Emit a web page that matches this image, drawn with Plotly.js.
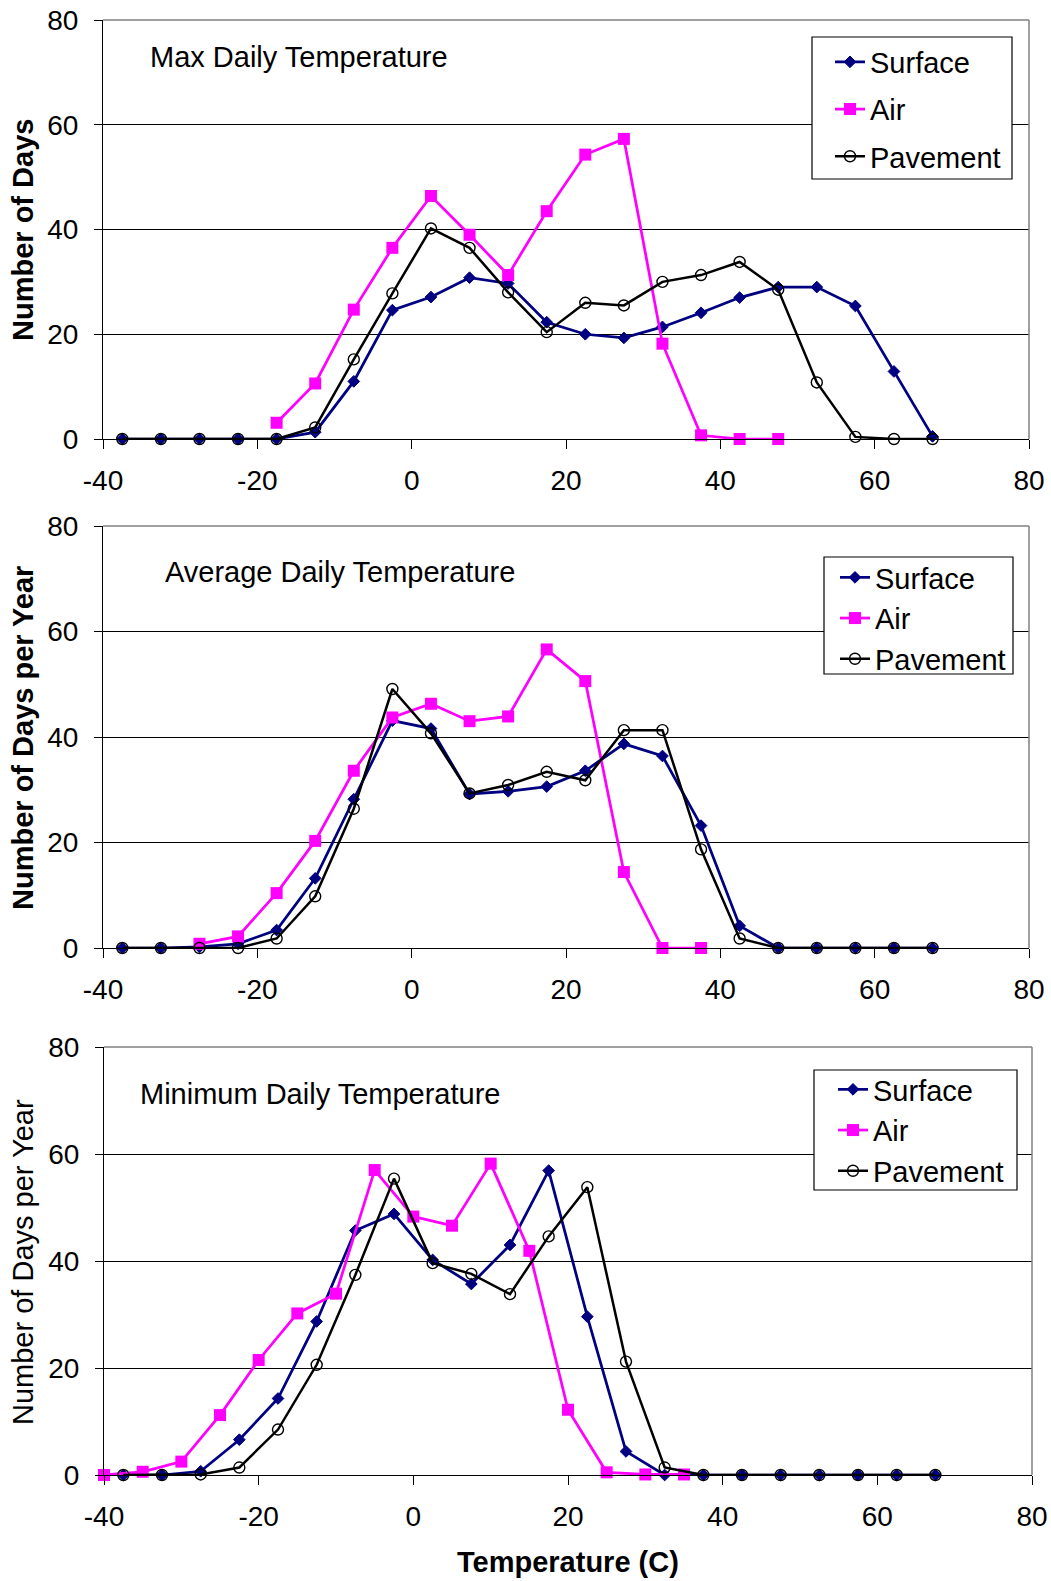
<!DOCTYPE html>
<html>
<head>
<meta charset="utf-8">
<script src="https://cdn.plot.ly/plotly-3.0.1.min.js"></script>
<style>html,body{margin:0;padding:0;background:#fff;}#chart{width:1051px;height:1581px;}</style>
</head>
<body>
<div id="chart"></div>
<script>
// ---- Data ----
var binX = [-37.5,-32.5,-27.5,-22.5,-17.5,-12.5,-7.5,-2.5,2.5,7.5,12.5,17.5,22.5,27.5,32.5,37.5,42.5,47.5,52.5,57.5,62.5,67.5];

// Max Daily Temperature
var maxSurface  = [0,0,0,0,0,1.3,11.0,24.6,27.1,30.8,29.7,22.3,20.0,19.3,21.4,24.1,27.0,29.0,29.0,25.4,12.9,0.5];
var maxAirX     = [-17.5,-12.5,-7.5,-2.5,2.5,7.5,12.5,17.5,22.5,27.5,32.5,37.5,42.5,47.5];
var maxAir      = [3.1,10.6,24.7,36.5,46.4,39.0,31.3,43.5,54.3,57.3,18.2,0.7,0,0];
var maxPavement = [0,0,0,0,0,2.2,15.2,27.8,40.2,36.5,28.0,20.4,26.0,25.5,30.0,31.3,33.8,28.5,10.8,0.4,0,0];

// Average Daily Temperature
var avgSurface  = [0,0,0.2,0.8,3.4,13.2,28.2,43.1,41.6,29.2,29.7,30.6,33.6,38.7,36.4,23.2,4.2,0,0,0,0,0];
var avgAirX     = [-27.5,-22.5,-17.5,-12.5,-7.5,-2.5,2.5,7.5,12.5,17.5,22.5,27.5,32.5,37.5];
var avgAir      = [0.8,2.2,10.4,20.3,33.6,43.7,46.3,43.0,43.9,56.6,50.6,14.4,0,0];
var avgPavement = [0,0,0,0,1.8,9.8,26.4,49.1,40.7,29.3,30.9,33.4,31.8,41.3,41.3,18.7,1.8,0,0,0,0,0];

// Minimum Daily Temperature
var minSurface  = [0,0,0.7,6.6,14.3,28.7,45.7,48.8,40.2,35.7,43.0,56.9,29.6,4.4,0,0,0,0,0,0,0,0];
var minAirX     = [-40,-35,-30,-25,-20,-15,-10,-5,0,5,10,15,20,25,30,35];
var minAir      = [0,0.6,2.5,11.2,21.5,30.2,33.9,57.0,48.3,46.6,58.2,41.9,12.2,0.5,0.1,0.1];
var minPavement = [0,0,0.1,1.4,8.5,20.6,37.4,55.4,39.6,37.6,33.8,44.6,53.8,21.2,1.4,0,0,0,0,0,0,0];

var seriesNames = ['Surface','Air','Pavement'];
var panelTitles = ['Max Daily Temperature','Average Daily Temperature','Minimum Daily Temperature'];
var yTitles = ['Number of Days','Number of Days per Year','Number of Days per Year'];
var xTitle = 'Temperature (C)';
var xTickVals = [-40,-20,0,20,40,60,80];
var xTickText = ['-40','-20','0','20','40','60','80'];
var yTickVals = [0,20,40,60,80];
var yTickText = ['0','20','40','60','80'];

// ---- Styling ----
var W = 1051, H = 1581;
var FONT = '"Liberation Sans", Arial, sans-serif';
var TXT = 29, TICK = 28;
var NAVY = '#000080', MAG = '#FF00FF';

function px(x){ return x / W; }
function py(y){ return 1 - y / H; }

function surfaceTrace(x, y, xa, ya, lg, g){
  return {x:x, y:y, xaxis:xa, yaxis:ya, legend:lg, legendgroup:g+'s', name:seriesNames[0], type:'scatter', mode:'lines+markers',
    cliponaxis:false, line:{color:NAVY, width:2.75},
    marker:{symbol:'diamond', size:9, color:NAVY, line:{color:NAVY, width:1}}};
}
function airTrace(x, y, xa, ya, lg, g){
  return {x:x, y:y, xaxis:xa, yaxis:ya, legend:lg, legendgroup:g+'a', name:seriesNames[1], type:'scatter', mode:'lines+markers',
    cliponaxis:false, line:{color:MAG, width:2.75},
    marker:{symbol:'square', size:12, color:MAG, line:{color:MAG, width:0}}};
}
function paveTrace(x, y, xa, ya, lg, g){
  return {x:x, y:y, xaxis:xa, yaxis:ya, legend:lg, legendgroup:g+'p', name:seriesNames[2], type:'scatter', mode:'lines+markers',
    cliponaxis:false, line:{color:'#000', width:2.5},
    marker:{symbol:'circle', size:11, color:'rgba(0,0,0,0)', line:{color:'#000', width:1.4}}};
}

var data = [
  surfaceTrace(binX, maxSurface, 'x', 'y', 'legend', 'p1'),
  airTrace(maxAirX, maxAir, 'x', 'y', 'legend', 'p1'),
  paveTrace(binX, maxPavement, 'x', 'y', 'legend', 'p1'),
  surfaceTrace(binX, avgSurface, 'x2', 'y2', 'legend2', 'p2'),
  airTrace(avgAirX, avgAir, 'x2', 'y2', 'legend2', 'p2'),
  paveTrace(binX, avgPavement, 'x2', 'y2', 'legend2', 'p2'),
  surfaceTrace(binX, minSurface, 'x3', 'y3', 'legend3', 'p3'),
  airTrace(minAirX, minAir, 'x3', 'y3', 'legend3', 'p3'),
  paveTrace(binX, minPavement, 'x3', 'y3', 'legend3', 'p3')
];

// panel geometry (pixels)
var panels = [
  {l:103, r:1029, t:20,   b:439},
  {l:103, r:1029, t:526,  b:948},
  {l:104, r:1032, t:1047, b:1475}
];

function xAxis(p, anchor){
  return {domain:[px(p.l), px(p.r)], anchor:anchor, range:[-40,80], tickmode:'array', tickvals:xTickVals, ticktext:xTickText,
    showgrid:false, zeroline:false, showline:true, linecolor:'#000', linewidth:1,
    ticks:'outside', ticklen:9, tickwidth:1, tickcolor:'#000', ticklabelstandoff:7,
    tickfont:{family:FONT, size:TICK, color:'#000'}, automargin:false, fixedrange:true};
}
function yAxis(p, anchor){
  return {domain:[py(p.b), py(p.t)], anchor:anchor, range:[0,80], tickmode:'array', tickvals:yTickVals, ticktext:yTickText,
    showgrid:true, gridcolor:'#000', gridwidth:1, zeroline:false, showline:true, linecolor:'#000', linewidth:1,
    ticks:'outside', ticklen:8, tickwidth:1, tickcolor:'#000', ticklabelstandoff:10,
    tickfont:{family:FONT, size:TICK, color:'#000'}, automargin:false, fixedrange:true};
}

var shapes = [];
var xr = ['x','x2','x3'], yr = ['y','y2','y3'];
for (var i=0;i<3;i++){
  shapes.push({type:'line', xref:xr[i]+' domain', yref:yr[i]+' domain', x0:0, x1:1, y0:1, y1:1, line:{color:'#808080', width:1.5}, layer:'above'});
  shapes.push({type:'line', xref:xr[i]+' domain', yref:yr[i]+' domain', x0:1, x1:1, y0:0, y1:1, line:{color:'#808080', width:1.5}, layer:'above'});
}
// legend boxes (pixels)
var boxes = [
  {l:812, r:1012, t:37,   b:179},
  {l:824, r:1013, t:557,  b:674},
  {l:814, r:1017, t:1070, b:1190}
];
boxes.forEach(function(b){
  shapes.push({type:'rect', xref:'paper', yref:'paper', x0:px(b.l), x1:px(b.r), y0:py(b.b), y1:py(b.t),
    fillcolor:'#fff', line:{color:'#000', width:1.2}, layer:'above'});
});

var annotations = [
  {text:panelTitles[0], x:px(148), y:py(57), xref:'paper', yref:'paper', xanchor:'left', yanchor:'middle', showarrow:false, font:{family:FONT, size:TXT, color:'#000'}},
  {text:panelTitles[1], x:px(163), y:py(572), xref:'paper', yref:'paper', xanchor:'left', yanchor:'middle', showarrow:false, font:{family:FONT, size:TXT, color:'#000'}},
  {text:panelTitles[2], x:px(138), y:py(1094), xref:'paper', yref:'paper', xanchor:'left', yanchor:'middle', showarrow:false, font:{family:FONT, size:TXT, color:'#000'}},
  {text:'<b>'+yTitles[0]+'</b>', x:px(23), y:py(230), xref:'paper', yref:'paper', xanchor:'center', yanchor:'middle', textangle:-90, showarrow:false, font:{family:FONT, size:TXT, color:'#000'}},
  {text:'<b>'+yTitles[1]+'</b>', x:px(23), y:py(738), xref:'paper', yref:'paper', xanchor:'center', yanchor:'middle', textangle:-90, showarrow:false, font:{family:FONT, size:TXT, color:'#000'}},
  {text:yTitles[2], x:px(23), y:py(1262), xref:'paper', yref:'paper', xanchor:'center', yanchor:'middle', textangle:-90, showarrow:false, font:{family:FONT, size:TXT, color:'#000'}},
  {text:'<b>'+xTitle+'</b>', x:px(568), y:py(1562), xref:'paper', yref:'paper', xanchor:'center', yanchor:'middle', showarrow:false, font:{family:FONT, size:TXT, color:'#000'}}
];

function legendCfg(lx, ty, gap){
  return {x:px(lx), y:py(ty), xanchor:'left', yanchor:'top', bgcolor:'rgba(0,0,0,0)', borderwidth:0,
    traceorder:'grouped', tracegroupgap:gap, font:{family:FONT, size:TXT, color:'#000'}, itemclick:false, itemdoubleclick:false};
}

var layout = {
  width:W, height:H, margin:{l:0, r:0, t:0, b:0}, paper_bgcolor:'#fff', plot_bgcolor:'#fff',
  font:{family:FONT, size:TXT, color:'#000'},
  showlegend:true,
  xaxis:xAxis(panels[0],'y'), yaxis:yAxis(panels[0],'x'),
  xaxis2:xAxis(panels[1],'y2'), yaxis2:yAxis(panels[1],'x2'),
  xaxis3:xAxis(panels[2],'y3'), yaxis3:yAxis(panels[2],'x3'),
  legend:legendCfg(830, 36.5, 6.5),
  legend2:legendCfg(835, 552, 0),
  legend3:legendCfg(833, 1064, 0),
  shapes:shapes, annotations:annotations
};

Plotly.newPlot('chart', data, layout, {staticPlot:true, displayModeBar:false});
</script>
</body>
</html>
